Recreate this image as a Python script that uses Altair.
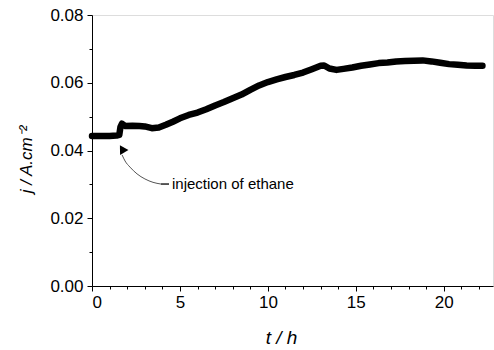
import altair as alt
import pandas as pd

# measured curve (t in h, j in A/cm2)
t_vals = [0.0, 0.5, 1.0, 1.4, 1.55, 1.62, 1.7, 1.9, 2.3, 2.7, 3.0, 3.4, 3.8, 4.2, 4.6,
          5.0, 5.5, 6.0, 6.5, 7.0, 7.5, 8.0, 8.5, 9.0, 9.5, 10.0, 10.5, 11.0, 11.5,
          12.0, 12.5, 13.0, 13.2, 13.5, 13.9, 14.3, 14.8, 15.3, 15.8, 16.3, 16.8,
          17.3, 17.8, 18.3, 18.8, 19.3, 19.8, 20.3, 20.8, 21.3, 21.8, 22.2]
j_vals = [0.0443, 0.0443, 0.0443, 0.0444, 0.0446, 0.0470, 0.0479, 0.0472, 0.0473,
          0.0472, 0.0471, 0.0466, 0.0468, 0.0476, 0.0485, 0.0495, 0.0505, 0.0512,
          0.0522, 0.0533, 0.0543, 0.0554, 0.0565, 0.0579, 0.0592, 0.0602, 0.0610,
          0.0617, 0.0623, 0.0630, 0.0640, 0.0650, 0.0651, 0.0642, 0.0638, 0.0641,
          0.0645, 0.0650, 0.0654, 0.0658, 0.0660, 0.0663, 0.0664, 0.0665, 0.0666,
          0.0663, 0.0659, 0.0655, 0.0653, 0.0651, 0.0650, 0.0650]

# annotation arrow path (data coordinates)
arrow_t = [1.71, 1.88, 2.16, 2.56, 3.01, 3.47, 3.92]
arrow_j = [0.0387, 0.0369, 0.0351, 0.0331, 0.0316, 0.0306, 0.0301]
dash_t = [3.92, 4.38]
dash_j = [0.0301, 0.0301]
head_t = [1.71]
head_j = [0.0405]
label_t = [4.55]
label_j = [0.0301]
label_text = ["injection of ethane"]

x_major = [0, 5, 10, 15, 20]
x_minor = [1, 2, 3, 4, 6, 7, 8, 9, 11, 12, 13, 14, 16, 17, 18, 19, 21, 22]
y_major = [0.0, 0.02, 0.04, 0.06, 0.08]
y_minor = [0.01, 0.03, 0.05, 0.07]

FONT = "Liberation Sans"

df = pd.DataFrame({"t": t_vals, "j": j_vals})
xs = alt.Scale(domain=[0, 22.8], nice=False, zero=False)
ys = alt.Scale(domain=[0, 0.08], nice=False)

main = alt.Chart(df).mark_line(
    color="black", strokeWidth=6.5, strokeCap="round", strokeJoin="round"
).encode(
    x=alt.X("t:Q", scale=xs, axis=alt.Axis(
        orient="bottom", values=x_major, format="d", title="t / h", titleFontStyle="italic",
        titleFontWeight="normal", titleFontSize=19, titleFont=FONT,
        titleX=189, titleY=57, titleBaseline="alphabetic", titleAlign="center",
        labelFont=FONT, labelFontSize=17, labelColor="black", labelPadding=3,
        tickSize=5, tickColor="black", domainColor="black", grid=False)),
    y=alt.Y("j:Q", scale=ys, axis=alt.Axis(
        orient="left", values=y_major, format=".2f", title="j / A.cm⁻²", titleFontStyle="italic",
        titleFontWeight="normal", titleFontSize=17, titleFont=FONT,
        titleX=-61, titleY=144, titleAngle=270, titleBaseline="alphabetic",
        titleAlign="center",
        labelFont=FONT, labelFontSize=17, labelColor="black", labelPadding=4,
        tickSize=5, tickColor="black", domainColor="black", grid=False)),
)

minor = alt.Chart(df).mark_line(opacity=0).encode(
    x=alt.X("t:Q", scale=xs, axis=alt.Axis(
        orient="bottom", values=x_minor, labels=False, title=None, domain=False,
        tickSize=3, tickColor="black", grid=False)),
    y=alt.Y("j:Q", scale=ys, axis=alt.Axis(
        orient="left", values=y_minor, labels=False, title=None, domain=False,
        tickSize=3, tickColor="black", grid=False)),
)

arrow = alt.Chart(pd.DataFrame({"t": arrow_t, "j": arrow_j})).mark_line(
    color="#555555", strokeWidth=1, interpolate="monotone"
).encode(x=alt.X("t:Q", scale=xs, axis=None), y=alt.Y("j:Q", scale=ys, axis=None))

dash = alt.Chart(pd.DataFrame({"t": dash_t, "j": dash_j})).mark_line(
    color="black", strokeWidth=1.3
).encode(x=alt.X("t:Q", scale=xs, axis=None), y=alt.Y("j:Q", scale=ys, axis=None))

head = alt.Chart(pd.DataFrame({"t": head_t, "j": head_j})).mark_point(
    shape="triangle-up", filled=True, color="black", opacity=1, size=95, angle=329
).encode(x=alt.X("t:Q", scale=xs, axis=None), y=alt.Y("j:Q", scale=ys, axis=None))

label = alt.Chart(pd.DataFrame({"t": label_t, "j": label_j, "txt": label_text})).mark_text(
    align="left", baseline="middle", font=FONT, fontSize=15, color="black"
).encode(x=alt.X("t:Q", scale=xs, axis=None), y=alt.Y("j:Q", scale=ys, axis=None), text="txt:N")

chart = alt.layer(main, minor, arrow, dash, head, label).resolve_axis(
    x="independent", y="independent"
).properties(
    width=401, height=271,
    autosize=alt.AutoSizeParams(type="none"),
    padding={"left": 92, "top": 15, "right": 1, "bottom": 64},
).configure_view(stroke=None).configure(background="white")

chart.save("out.html", embed_options={"renderer": "svg", "actions": False})
